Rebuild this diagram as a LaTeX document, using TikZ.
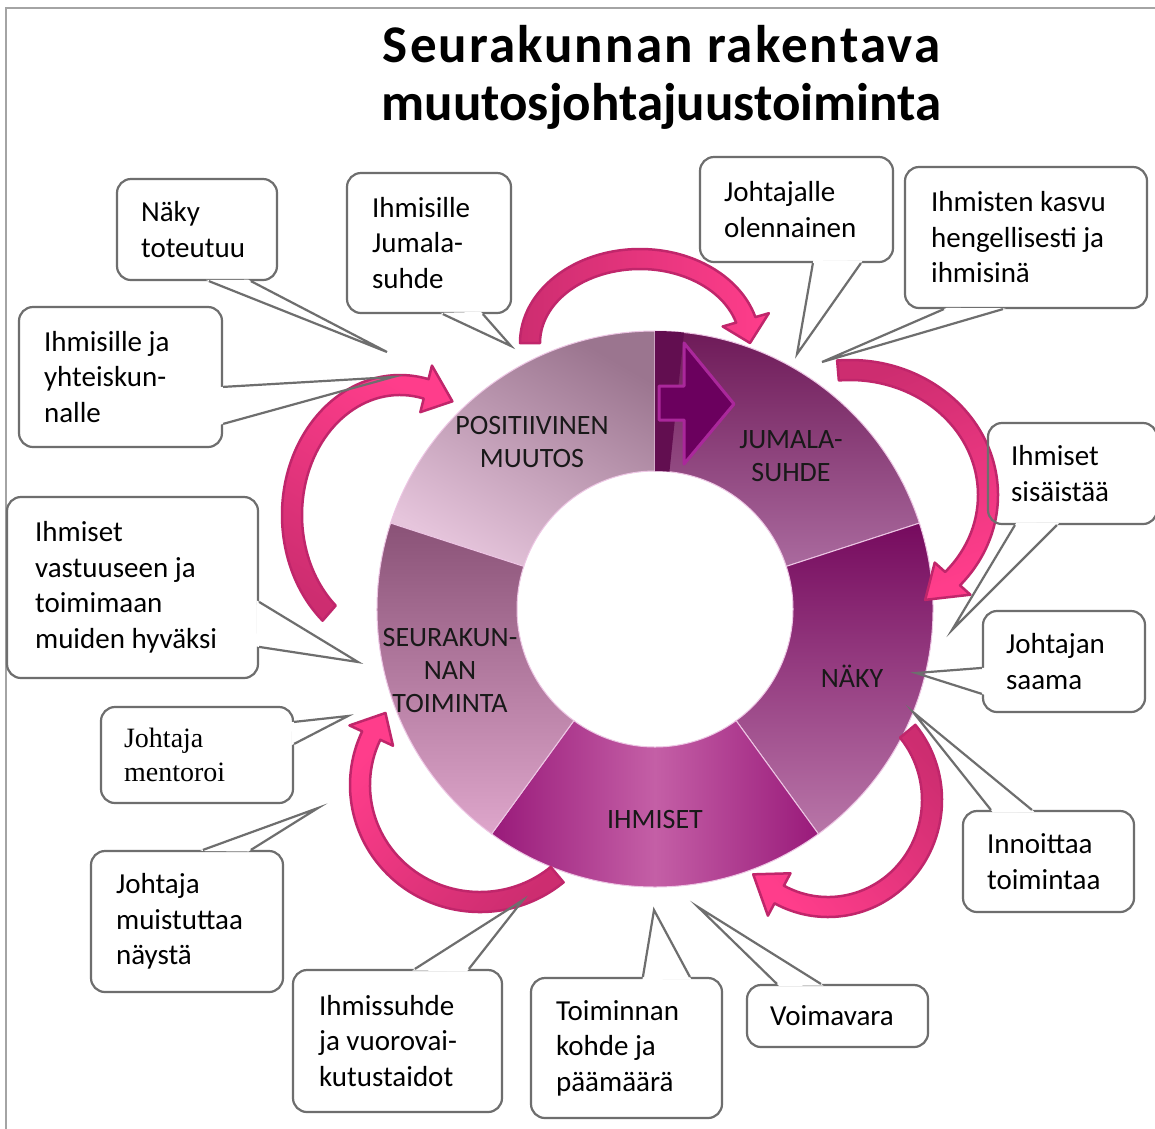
\documentclass[tikz,border=0pt]{standalone}
\usepackage{fontspec}
\setmainfont{Carlito}
\newfontfamily\timesjm{Liberation Serif}
\usetikzlibrary{calc}
\definecolor{boxline}{HTML}{6E6E6E}
\definecolor{framecol}{HTML}{A4A4A4}
\definecolor{arrowedge}{HTML}{C0266B}
\definecolor{arrowdark}{HTML}{CD2D70}
\definecolor{arrowbright}{HTML}{FF3D8B}
\definecolor{segline}{HTML}{EDC6E4}
\definecolor{ihmdark}{HTML}{991A7A}
\definecolor{ihmlight}{HTML}{C45FA6}
\tikzset{
  callout/.style={draw=boxline, line width=2.2pt, rounded corners=14pt, inner sep=0pt},
  ptrline/.style={draw=boxline, line width=2.2pt, line join=miter},
  ctext/.style={font=\fontsize{29}{35.5}\selectfont, align=left, inner sep=0pt, anchor=west},
  segtext/.style={font=\fontsize{28}{33}\selectfont, align=center, inner sep=0pt, text=black!90},
  pinkarrow/.style={draw=arrowedge, line width=2.5pt, line join=round},
  segbase/.style={draw=segline, line width=1pt},
  titletext/.style={font=\fontsize{53}{58}\selectfont\bfseries, anchor=base, inner sep=0pt},
}
\newcommand\ringseg[3]{%
  \path[#3] ($(O)+(#1:278)$) arc[start angle=#1,end angle=#2,radius=278]
    -- ($(O)+(#2:138)$) arc[start angle=#2,end angle=#1,radius=138] -- cycle;}
\newcommand\epoint[6]{%
  \pgfmathsetmacro\epx{#2+(#4)*cos(#6)}%
  \pgfmathsetmacro\epy{#3+(#5)*sin(#6)}%
  \coordinate (#1) at (\epx,\epy);}
% #8 = direction (degrees) from tail to head; bright colour at the head
\newcommand\pinkarr[8]{%
  \pgfmathsetmacro\rxo{#3+10}\pgfmathsetmacro\ryo{#4+10}%
  \pgfmathsetmacro\rxi{#3-10}\pgfmathsetmacro\ryi{#4-10}%
  \pgfmathsetmacro\atip{#6+#7}%
  \pgfmathsetmacro\shang{#8+90}%
  \epoint{pa}{#1}{#2}{#3+10}{#4+10}{#5}%
  \epoint{pb}{#1}{#2}{#3+24}{#4+24}{#6}%
  \epoint{pc}{#1}{#2}{#3}{#4}{\atip}%
  \epoint{pd}{#1}{#2}{#3-24}{#4-24}{#6}%
  \epoint{pe}{#1}{#2}{#3-10}{#4-10}{#6}%
  \path[pinkarrow, left color=arrowdark, right color=arrowbright, shading angle=\shang]
    (pa) arc[start angle=#5, end angle=#6, x radius=\rxo, y radius=\ryo]
    -- (pb) -- (pc) -- (pd) -- (pe)
    arc[start angle=#6, end angle=#5, x radius=\rxi, y radius=\ryi] -- cycle;}
\newcommand\ptr[3]{%
  \fill[white] ($(#1)!-3pt!(#3)$) -- ($(#1)!3pt!(#3)$) -- ($(#2)!3pt!(#3)$) -- ($(#2)!-3pt!(#3)$) -- cycle;
  \draw[ptrline] (#1) -- (#3) -- (#2);}
\begin{document}
\begin{tikzpicture}[x=1pt,y=1pt]
\useasboundingbox (0,0) rectangle (1155,-1128);
\fill[white] (0,0) rectangle (1155,-1128);
\draw[framecol, line width=1.5pt] (6,-1140) -- (6,-8) -- (1170,-8);

% title
\node[titletext] (title1) at (661.5,-62) {\addfontfeatures{LetterSpace=4}Seurakunnan rakentava};
\node[titletext] (title2) at (661.5,-120) {muutosjohtajuustoiminta};

% ring
\coordinate (O) at (655,-609);
\ringseg{90}{162}{segbase, left color={rgb,255:red,230;green,197;blue,220}, right color={rgb,255:red,155;green,117;blue,143}, shading angle=150}
\ringseg{18}{90}{segbase, top color={rgb,255:red,110;green,26;blue,88}, bottom color={rgb,255:red,170;green,106;blue,158}}
\ringseg{-54}{18}{segbase, top color={rgb,255:red,118;green,10;blue,94}, bottom color={rgb,255:red,184;green,118;blue,168}}
\ringseg{-126}{-54}{segbase, left color=ihmdark, right color=ihmdark, middle color=ihmlight}
\ringseg{162}{234}{segbase, top color={rgb,255:red,138;green,82;blue,119}, bottom color={rgb,255:red,222;green,166;blue,203}}
\ringseg{84}{90}{fill={rgb,255:red,98;green,14;blue,80}}
\path[fill={rgb,255:red,107;green,0;blue,94}, draw={rgb,255:red,170;green,40;blue,155}, line width=3pt, line join=round]
  (659,-386) -- (684,-386) -- (684,-343) -- (734,-404) -- (684,-464) -- (684,-420) -- (659,-420) -- cycle;

% segment labels
\node[segtext] (lpos) at (532,-442) {POSITIIVINEN\\MUUTOS};
\node[segtext] (ljum) at (791,-456) {JUMALA-\\SUHDE};
\node[segtext] (lnak) at (852,-676) {NÄKY};
\node[segtext] (lihm) at (655,-819) {IHMISET};
\node[segtext] (lseu) at (450,-670) {SEURAKUN-\\NAN\\TOIMINTA};

% pink curved arrows
\pinkarr{640}{-343}{110}{84}{180}{16}{-16}{0}
\pinkarr{850}{-495}{138}{125}{95}{-42}{-15}{-69}
\pinkarr{828}{-800}{104}{107}{40}{-118}{-18}{-138}
\pinkarr{480}{-785}{120}{117}{-50}{-205}{-13}{136}
\pinkarr{400}{-515}{108}{130}{-131}{-284}{-15}{59}

% callout boxes
\node[callout, minimum width=160pt, minimum height=101pt] (A) at (197,-229.5) {};
\node[callout, minimum width=164pt, minimum height=140pt] (B) at (429,-243) {};
\node[callout, minimum width=203pt, minimum height=140pt] (C) at (120.5,-377) {};
\node[callout, minimum width=193pt, minimum height=105pt] (D) at (796.5,-209.5) {};
\node[callout, minimum width=242pt, minimum height=141pt] (E) at (1026,-237.5) {};
\node[callout, minimum width=169pt, minimum height=101pt] (F) at (1072.5,-473.5) {};
\node[callout, minimum width=162pt, minimum height=101pt] (G) at (1064,-661.5) {};
\node[callout, minimum width=171pt, minimum height=101pt] (H) at (1048.5,-861.5) {};
\node[callout, minimum width=181pt, minimum height=62pt] (I) at (837.5,-1016) {};
\node[callout, minimum width=191pt, minimum height=140pt] (J) at (626.5,-1048) {};
\node[callout, minimum width=209pt, minimum height=142pt] (K) at (397.5,-1041) {};
\node[callout, minimum width=192pt, minimum height=141pt] (L) at (187,-921.5) {};
\node[callout, minimum width=192pt, minimum height=96pt] (M) at (197,-755) {};
\node[callout, minimum width=251pt, minimum height=181pt] (N) at (132.5,-587.5) {};

% callout texts
\node[ctext] (tA) at ($(A.west)+(25,0)$) {Näky\\toteutuu};
\node[ctext] (tB) at ($(B.west)+(26,0)$) {Ihmisille\\Jumala-\\suhde};
\node[ctext] (tC) at ($(C.west)+(26,0)$) {Ihmisille ja\\yhteiskun-\\nalle};
\node[ctext] (tD) at ($(D.west)+(25,0)$) {Johtajalle\\olennainen};
\node[ctext] (tE) at ($(E.west)+(27,0)$) {Ihmisten kasvu\\hengellisesti ja\\ihmisinä};
\node[ctext] (tF) at ($(F.west)+(24,0)$) {Ihmiset\\sisäistää};
\node[ctext] (tG) at ($(G.west)+(24,0)$) {Johtajan\\saama};
\node[ctext] (tH) at ($(H.west)+(25,0)$) {Innoittaa\\toimintaa};
\node[ctext] (tI) at ($(I.west)+(24,0)$) {Voimavara};
\node[ctext] (tJ) at ($(J.west)+(26,0)$) {Toiminnan\\kohde ja\\päämäärä};
\node[ctext] (tK) at ($(K.west)+(27,0)$) {Ihmissuhde\\ja vuorovai-\\kutustaidot};
\node[ctext] (tL) at ($(L.west)+(26,0)$) {Johtaja\\muistuttaa\\näystä};
\node[ctext, font=\timesjm\fontsize{28}{33.5}\selectfont] (tM) at ($(M.west)+(24,0)$) {Johtaja\\mentoroi};
\node[ctext] (tN) at ($(N.west)+(29,0)$) {Ihmiset\\vastuuseen ja\\toimimaan\\muiden hyväksi};

% pointer bases and tips
\coordinate (A1) at ($(A.south west)+(93,0)$);   \coordinate (A2) at ($(A.south west)+(135,0)$); \coordinate (pA) at (387,-352);
\coordinate (B1) at ($(B.south west)+(97,0)$);   \coordinate (B2) at ($(B.south west)+(137,0)$); \coordinate (pB) at (511,-346);
\coordinate (C1) at ($(C.north east)+(0,-81)$);  \coordinate (C2) at ($(C.north east)+(0,-118)$); \coordinate (pC) at (393,-377);
\coordinate (D1) at ($(D.south west)+(114,0)$);  \coordinate (D2) at ($(D.south west)+(162,0)$); \coordinate (pD) at (797,-354);
\coordinate (E1) at ($(E.south west)+(40,0)$);   \coordinate (E2) at ($(E.south west)+(99,0)$);  \coordinate (pE) at (822,-362);
\coordinate (F1) at ($(F.south west)+(28,0)$);   \coordinate (F2) at ($(F.south west)+(70,0)$);  \coordinate (pF) at (952,-630);
\coordinate (G1) at ($(G.north west)+(0,-58)$);  \coordinate (G2) at ($(G.north west)+(0,-84)$); \coordinate (pG) at (916,-673);
\coordinate (H1) at ($(H.north west)+(29,0)$);   \coordinate (H2) at ($(H.north west)+(70,0)$);  \coordinate (pH) at (913,-712);
\coordinate (I1) at ($(I.north west)+(31,0)$);   \coordinate (I2) at ($(I.north west)+(75,0)$);  \coordinate (pI) at (698,-907);
\coordinate (J1) at ($(J.north west)+(113,0)$);  \coordinate (J2) at ($(J.north west)+(160,0)$); \coordinate (pJ) at (654,-910);
\coordinate (K1) at ($(K.north west)+(123,0)$);  \coordinate (K2) at ($(K.north west)+(177,0)$); \coordinate (pK) at (523,-900);
\coordinate (L1) at ($(L.north west)+(113,0)$);  \coordinate (L2) at ($(L.north west)+(161,0)$); \coordinate (pL) at (318,-808);
\coordinate (M1) at ($(M.north east)+(0,-16)$);  \coordinate (M2) at ($(M.north east)+(0,-38)$); \coordinate (pM) at (348,-716);
\coordinate (N1) at ($(N.north east)+(0,-106)$); \coordinate (N2) at ($(N.north east)+(0,-151)$); \coordinate (pN) at (358,-662);

\ptr{A1}{A2}{pA} \ptr{B1}{B2}{pB} \ptr{C1}{C2}{pC} \ptr{D1}{D2}{pD}
\ptr{E1}{E2}{pE} \ptr{F1}{F2}{pF} \ptr{G1}{G2}{pG} \ptr{H1}{H2}{pH}
\ptr{I1}{I2}{pI} \ptr{J1}{J2}{pJ} \ptr{K1}{K2}{pK} \ptr{L1}{L2}{pL}
\ptr{M1}{M2}{pM} \ptr{N1}{N2}{pN}
\end{tikzpicture}
\end{document}
